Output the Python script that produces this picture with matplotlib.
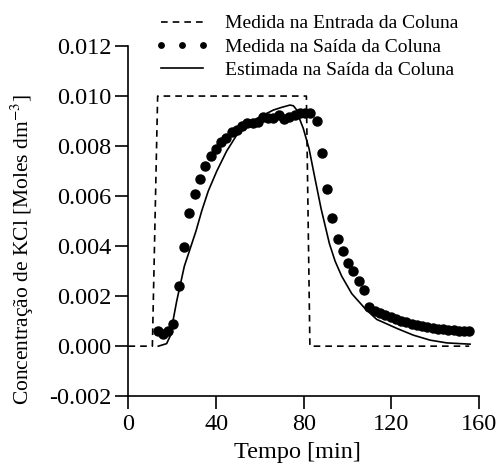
import matplotlib
matplotlib.use("Agg")
import matplotlib.pyplot as plt

plt.rcParams['font.family'] = ['Liberation Serif', 'DejaVu Serif']
plt.rcParams['mathtext.fontset'] = 'stix'

# entrada (degrau)
t_in = [0.0, 10.9, 13.3, 81.2, 82.8, 155.5]
c_in = [0.0, 0.0, 0.010, 0.010, 0.0, 0.0]

# saida medida
t_out = [13.3, 15.9, 18.2, 20.5, 23.1, 25.5, 27.8, 30.4, 32.6, 35.1, 37.5, 40.0,
         42.2, 44.7, 47.3, 49.4, 51.8, 54.2, 56.7, 59.0, 61.6, 63.8, 66.1, 68.6,
         71.1, 73.4, 75.9, 78.3, 80.6, 82.9, 85.9, 88.2, 90.7, 93.0, 95.4, 97.8,
         100.2, 102.6, 105.2, 107.6, 109.9, 112.5, 114.8, 117.2, 119.6, 122.0,
         124.4, 126.8, 129.2, 131.6, 134.0, 136.4, 138.8, 141.2, 143.6, 146.0,
         148.4, 150.8, 153.2, 155.6]
c_out = [0.00061, 0.00048, 0.00061, 0.00087, 0.0024, 0.00397, 0.00531, 0.00608,
         0.00669, 0.00721, 0.0076, 0.00788, 0.00815, 0.00831, 0.00857, 0.00864,
         0.0088, 0.00891, 0.00891, 0.00897, 0.00915, 0.00911, 0.00911, 0.00924,
         0.00908, 0.00917, 0.00924, 0.00931, 0.00931, 0.00931, 0.0090, 0.00771,
         0.00627, 0.00513, 0.00428, 0.00381, 0.00331, 0.003, 0.00261, 0.00224,
         0.00158, 0.0014, 0.00131, 0.00124, 0.00116, 0.00108, 0.00101, 0.00095,
         0.0009, 0.00084, 0.0008, 0.00076, 0.00072, 0.0007, 0.00068, 0.00066,
         0.00064, 0.00062, 0.0006, 0.00059]

# saida estimada
t_est = [13.6, 17.4, 19.0, 22.0, 25.5, 30.8, 33.4, 36.4, 40.3, 44.8, 49.1, 53.2,
         60.0, 66.1, 70.0, 73.7, 75.3, 76.8, 78.3, 79.8, 82.4, 84.9, 87.9, 91.7,
         94.3, 97.3, 101.9, 108.0, 113.3, 122.5, 130.0, 137.7, 145.3, 155.9]
c_est = [0.0, 0.0001, 0.0004, 0.0018, 0.0032, 0.0046, 0.0054, 0.0062, 0.0070,
         0.0078, 0.0084, 0.0088, 0.00917, 0.00944, 0.00955, 0.00964, 0.00961,
         0.00944, 0.00904, 0.0087, 0.0079, 0.0068, 0.0055, 0.0041, 0.0034,
         0.0028, 0.0021, 0.0015, 0.00107, 0.00071, 0.00044, 0.00024, 0.00013,
         0.00008]

fig = plt.figure(figsize=(4.99, 4.65), dpi=100)
ax = fig.add_axes([0.2575, 0.148, 0.7025, 0.753])

l1, = ax.plot(t_in, c_in, color="k", ls=(0, (4, 3)), lw=1.2, label="Medida na Entrada da Coluna")
l2, = ax.plot(t_out, c_out, "o", color="k", ms=6.5, label="Medida na Saída da Coluna")
l3, = ax.plot(t_est, c_est, color="k", lw=1.2, label="Estimada na Saída da Coluna")

ax.set_xlim(0, 160)
ax.set_ylim(-0.002, 0.012)
ax.set_xticks([0, 40, 80, 120, 160])
ax.set_yticks([-0.002, 0.0, 0.002, 0.004, 0.006, 0.008, 0.010, 0.012])
ax.set_yticklabels(["-0.002", "0.000", "0.002", "0.004", "0.006", "0.008", "0.010", "0.012"])
ax.spines["top"].set_visible(False)
ax.spines["right"].set_visible(False)
ax.spines["left"].set_linewidth(1.2)
ax.spines["bottom"].set_linewidth(1.2)
ax.tick_params(direction="out", length=9.5, width=1.2, labelsize=17.5, pad=3)

ax.set_xlabel("Tempo [min]", fontsize=17.5)
ax.xaxis.set_label_coords(0.482, -0.13)
ax.set_ylabel("Concentração de KCl [Moles dm$^{-3}$]", fontsize=15.5)
ax.yaxis.set_label_coords(-0.265, 0.42)

fig.legend(handles=[l1, l2, l3], loc="upper left", bbox_to_anchor=(0.296, 0.985),
           frameon=False, fontsize=14, handlelength=2.75, handletextpad=0.8,
           labelspacing=0.3, numpoints=3, markerscale=0.6, borderaxespad=0)

fig.savefig("out.png", dpi=100)
